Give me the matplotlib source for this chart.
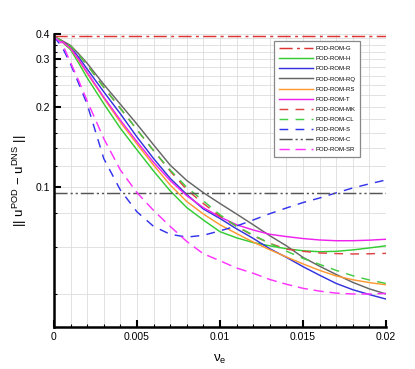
import matplotlib
matplotlib.use("Agg")
import matplotlib.pyplot as plt
from matplotlib.ticker import FixedLocator, NullFormatter

plt.rcParams['font.family'] = ['Liberation Sans', 'DejaVu Sans']
plt.rcParams['mathtext.fontset'] = 'custom'
plt.rcParams['mathtext.rm'] = 'Liberation Sans'
plt.rcParams['mathtext.it'] = 'Liberation Sans'

# ---------------- data ----------------
x = [0, 0.0005, 0.001, 0.0015, 0.002, 0.003, 0.004, 0.005, 0.006, 0.007, 0.008,
     0.009, 0.010, 0.011, 0.012, 0.013, 0.014, 0.015, 0.016, 0.017, 0.018, 0.019, 0.020]

x_const = [0, 0.02]
G = [0.368, 0.368]
C = [0.095, 0.095]

H = [0.365, 0.348, 0.326, 0.290, 0.256, 0.205, 0.166, 0.138, 0.115, 0.097, 0.084,
     0.0755, 0.0683, 0.0648, 0.0622, 0.0605, 0.0590, 0.0580, 0.0575, 0.0577, 0.0584, 0.0594, 0.0605]
R = [0.365, 0.350, 0.333, 0.305, 0.276, 0.227, 0.188, 0.154, 0.128, 0.108, 0.094,
     0.0830, 0.0765, 0.0700, 0.0645, 0.0590, 0.0548, 0.0506, 0.0470, 0.0438, 0.0415, 0.0398, 0.0383]
RQ = [0.365, 0.352, 0.338, 0.314, 0.290, 0.242, 0.204, 0.172, 0.144, 0.121, 0.106,
      0.0955, 0.0870, 0.0795, 0.0725, 0.0660, 0.0605, 0.0548, 0.0508, 0.0473, 0.0442, 0.0418, 0.0400]
RS = [0.365, 0.349, 0.329, 0.297, 0.266, 0.215, 0.175, 0.145, 0.121, 0.102, 0.0885,
      0.0795, 0.0725, 0.0672, 0.0625, 0.0585, 0.0550, 0.0518, 0.0490, 0.0467, 0.0452, 0.0441, 0.0433]
T = [0.365, 0.349, 0.330, 0.299, 0.268, 0.217, 0.178, 0.148, 0.124, 0.106, 0.093,
     0.0840, 0.0775, 0.0725, 0.0693, 0.0668, 0.0655, 0.0644, 0.0636, 0.0632, 0.0632, 0.0635, 0.0640]
MK = [0.365, 0.351, 0.336, 0.312, 0.286, 0.236, 0.197, 0.164, 0.137, 0.115, 0.098,
      0.0870, 0.0780, 0.0715, 0.0660, 0.0618, 0.0588, 0.0577, 0.0569, 0.0566, 0.0564, 0.0565, 0.0567]
CL = [0.365, 0.351, 0.336, 0.312, 0.286, 0.236, 0.197, 0.164, 0.137, 0.116, 0.100,
      0.0890, 0.0790, 0.0715, 0.0664, 0.0618, 0.0578, 0.0543, 0.0516, 0.0490, 0.0468, 0.0451, 0.0438]
S = [0.365, 0.333, 0.288, 0.243, 0.204, 0.128, 0.0977, 0.0810, 0.0715, 0.0668, 0.0652,
     0.0662, 0.0688, 0.0717, 0.0755, 0.0797, 0.0837, 0.0877, 0.0912, 0.0953, 0.0994, 0.1030, 0.1065]
SR = [0.365, 0.343, 0.292, 0.249, 0.210, 0.152, 0.116, 0.0955, 0.082, 0.0715, 0.0628,
      0.0565, 0.0532, 0.0500, 0.0478, 0.0453, 0.0435, 0.0420, 0.0410, 0.0403, 0.0400, 0.0400, 0.0402]

x_ticks = [0, 0.005, 0.01, 0.015, 0.02]
x_ticklabels = ['0', '0.005', '0.01', '0.015', '0.02']
y_top = 0.373
y_ticks = [0.1, 0.2, 0.3, y_top]
y_ticklabels = ['0.1', '0.2', '0.3', '0.4']

# ---------------- figure ----------------
fig = plt.figure(figsize=(4.15, 3.69), dpi=100)
ax = fig.add_axes([0.130, 0.1125, 0.800, 0.7954])
ax.set_yscale('log')
ax.set_xlim(0, 0.02)
ax.set_ylim(0.03, y_top)

lw = 1.05
ax.plot(x_const, G, color='#dd3333', lw=lw, ls=(0, (9, 3, 2, 3)), label='POD-ROM-G')
ax.plot(x, H, color='#33cc33', lw=lw, label='POD-ROM-H')
ax.plot(x, R, color='#3333dd', lw=lw, label='POD-ROM-R')
ax.plot(x, RQ, color='#666666', lw=lw, label='POD-ROM-RQ')
ax.plot(x, RS, color='#ff9933', lw=lw, label='POD-ROM-RS')
ax.plot(x, T, color='#ee22ee', lw=lw, label='POD-ROM-T')
ax.plot(x, MK, color='#dd4444', lw=lw, ls=(0, (6, 5)), label='POD-ROM-MK')
ax.plot(x, CL, color='#44cc44', lw=lw, ls=(0, (6, 5)), label='POD-ROM-CL')
ax.plot(x, S, color='#3333ee', lw=lw, ls=(0, (6, 5)), label='POD-ROM-S')
ax.plot(x_const, C, color='#555555', lw=lw, ls=(0, (9, 2, 1.5, 2, 1.5, 2)), label='POD-ROM-C')
ax.plot(x, SR, color='#ff33ff', lw=lw, ls=(0, (7, 4)), label='POD-ROM-SR')

# ticks
ax.set_xticks(x_ticks)
ax.set_xticklabels(x_ticklabels)
ax.xaxis.set_minor_locator(FixedLocator([i * 0.001 for i in range(21)]))
ax.yaxis.set_major_locator(FixedLocator(y_ticks))
ax.set_yticklabels(y_ticklabels)
ymin = [0.04, 0.06, 0.08, 0.12, 0.14, 0.16, 0.18, 0.22, 0.24, 0.26, 0.28, 0.32, 0.34, 0.36]
ax.yaxis.set_minor_locator(FixedLocator(ymin))
ax.yaxis.set_minor_formatter(NullFormatter())

ax.tick_params(which='major', direction='in', length=5, width=1.5, labelsize=7.5,
               top=False, right=False, pad=3)
ax.tick_params(which='minor', direction='in', length=2.5, width=0.8,
               top=False, right=False)

ax.grid(True, which='both', color='#dddddd', lw=0.6)
ax.set_axisbelow(True)

for side in ['top', 'right']:
    ax.spines[side].set_visible(False)
for side in ['left', 'bottom']:
    ax.spines[side].set_linewidth(1.8)
    ax.spines[side].set_color('black')

ax.set_xlabel(r'$\nu_\mathrm{e}$', fontsize=9.5)
ax.xaxis.set_label_coords(0.5, -0.085)
ax.set_ylabel(r'$||\ \mathrm{u}^{\mathrm{POD}}\ \mathrm{-}\ \mathrm{u}^{\mathrm{DNS}}\ ||$', fontsize=9.5)
ax.yaxis.set_label_coords(-0.075, 0.5)

leg = ax.legend(loc='upper left', bbox_to_anchor=(0.662, 0.975), fontsize=4.3,
                frameon=True, fancybox=False, edgecolor='#888888', framealpha=1,
                handlelength=5.8, handletextpad=0.4, labelspacing=0.82,
                borderpad=0.8, borderaxespad=0)
leg.get_frame().set_linewidth(0.9)

fig.savefig('out.png', dpi=100)
